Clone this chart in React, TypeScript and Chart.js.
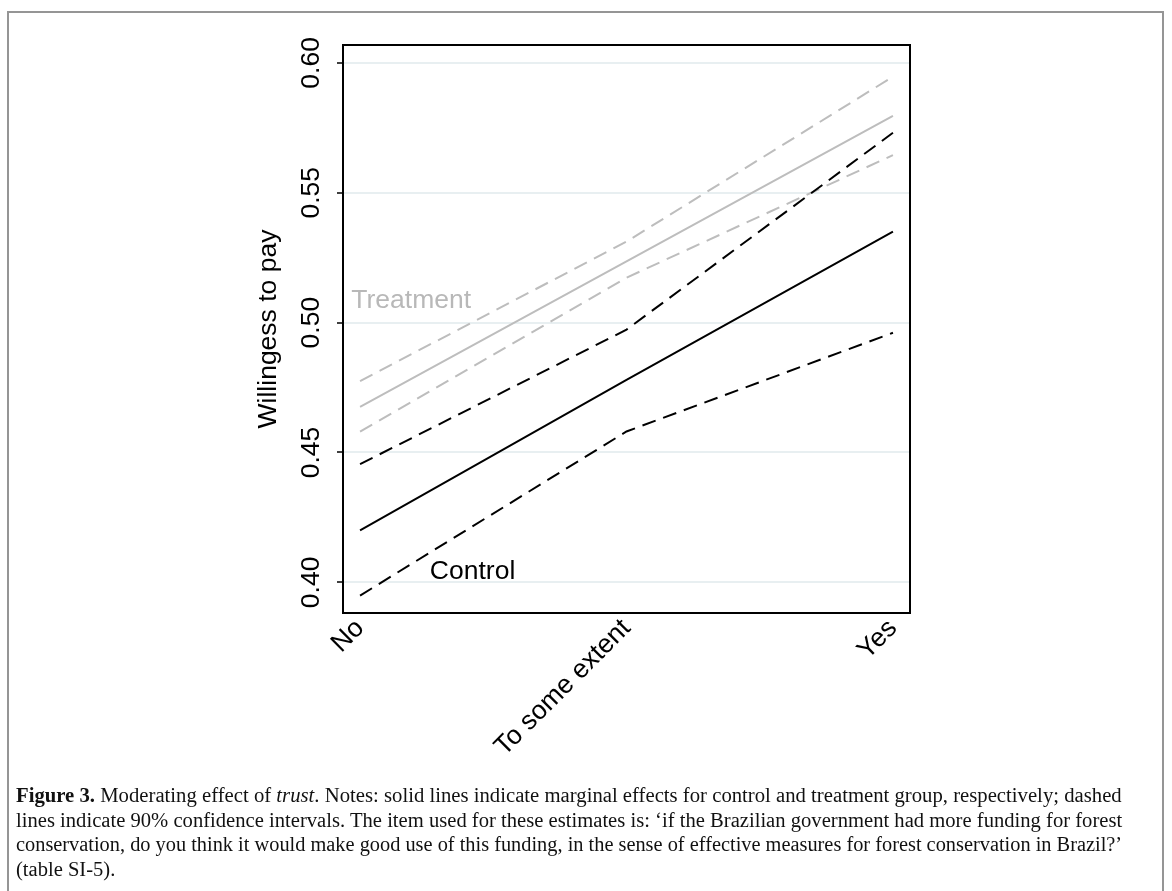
import React, { useEffect, useLayoutEffect, useRef } from "react";
import { Chart, registerables } from "chart.js";

Chart.register(...registerables);

// ---------- data ----------
const categories = ["No", "To some extent", "Yes"];
const categoryPositions = [0, 1, 2];

const controlEstimate = [0.42, 0.478, 0.535];
const controlUpper = [0.4455, 0.4973, 0.5731];
const controlLower = [0.3949, 0.4581, 0.4961];

const treatmentEstimate = [0.4676, 0.5236, 0.5796];
const treatmentUpper = [0.4775, 0.5312, 0.5947];
const treatmentLower = [0.458, 0.5173, 0.5645];

const yTickValues = [0.4, 0.45, 0.5, 0.55, 0.6];
const yTickLabels = ["0.40", "0.45", "0.50", "0.55", "0.60"];

const yAxisTitle = "Willingess to pay";
const annotationTexts = ["Treatment", "Control"];
const annotationX = [-0.033, 0.262];
const annotationY = [0.5058, 0.4014];

const captionLines = [
  [
    { t: "Figure 3.", s: "b" },
    { t: " Moderating effect of " },
    { t: "trust", s: "i" },
    { t: ". Notes: solid lines indicate marginal effects for control and treatment group, respectively; dashed" },
  ],
  [{ t: "lines indicate 90% confidence intervals. The item used for these estimates is: \u2018if the Brazilian government had more funding for forest" }],
  [{ t: "conservation, do you think it would make good use of this funding, in the sense of effective measures for forest conservation in Brazil?\u2019" }],
  [{ t: "(table SI-5)." }],
];

// ---------- styles ----------
const FONT = "'Liberation Sans', Arial, Helvetica, sans-serif";
const FS = 26.5;
const BLACK = "#000000";
const GRAY = "#bdbdbd";
const GRAY_TEXT = "#b8b8b8";
const GRID = "#e8eff1";
const DASH = [14, 8];

const pts = (vals: number[]) => categoryPositions.map((x, i) => ({ x, y: vals[i] }));

const series = [
  { data: controlUpper, color: BLACK, dash: DASH },
  { data: controlLower, color: BLACK, dash: DASH },
  { data: controlEstimate, color: BLACK, dash: [] as number[] },
  { data: treatmentUpper, color: GRAY, dash: DASH },
  { data: treatmentLower, color: GRAY, dash: DASH },
  { data: treatmentEstimate, color: GRAY, dash: [] as number[] },
];

const framePlugin = {
  id: "frameAndNotes",
  afterDraw(chart: any) {
    const { ctx, chartArea, scales } = chart;
    ctx.save();
    ctx.strokeStyle = BLACK;
    ctx.lineWidth = 2;
    ctx.strokeRect(chartArea.left, chartArea.top, chartArea.right - chartArea.left, chartArea.bottom - chartArea.top);
    ctx.font = `${FS}px ${FONT}`;
    ctx.textAlign = "left";
    ctx.textBaseline = "alphabetic";
    annotationTexts.forEach((txt, i) => {
      ctx.fillStyle = i === 0 ? GRAY_TEXT : BLACK;
      ctx.fillText(txt, scales.x.getPixelForValue(annotationX[i]), scales.y.getPixelForValue(annotationY[i]));
    });
    ctx.restore();
  },
};

function ChartBox() {
  const ref = useRef<HTMLCanvasElement | null>(null);
  useEffect(() => {
    if (!ref.current) return;
    const chart = new Chart(ref.current, {
      type: "line",
      data: {
        datasets: series.map((s, i) => ({
          label: "s" + i,
          data: pts(s.data),
          borderColor: s.color,
          borderWidth: 2,
          borderDash: s.dash,
          pointRadius: 0,
          fill: false,
          tension: 0,
        })),
      },
      options: {
        animation: false,
        responsive: false,
        maintainAspectRatio: false,
        layout: { padding: { left: 253, top: 45, right: 262, bottom: 0 } },
        plugins: { legend: { display: false }, tooltip: { enabled: false }, title: { display: false } },
        scales: {
          x: {
            type: "linear",
            min: -0.064,
            max: 2.064,
            afterFit: (s: any) => {
              s.height = 278;
            },
            grid: { display: false, drawTicks: false },
            border: { display: false },
            ticks: {
              stepSize: 1,
              includeBounds: false,
              autoSkip: false,
              minRotation: 45,
              maxRotation: 45,
              padding: 0,
              color: BLACK,
              font: { family: FONT, size: FS },
              callback: (v: any) => categories[categoryPositions.indexOf(Number(v))] ?? "",
            },
          },
          y: {
            type: "linear",
            min: 0.3882,
            max: 0.6069,
            afterFit: (s: any) => {
              s.width = 90;
            },
            afterBuildTicks: (s: any) => {
              s.ticks = yTickValues.map((v) => ({ value: v }));
            },
            grid: { color: GRID, lineWidth: 2, drawTicks: true, tickLength: 6, tickColor: BLACK, tickWidth: 1.5 },
            border: { display: false },
            title: { display: true, text: yAxisTitle, color: BLACK, font: { family: FONT, size: FS }, padding: 0 },
            ticks: {
              minRotation: 90,
              maxRotation: 90,
              crossAlign: "center",
              padding: 0,
              color: BLACK,
              font: { family: FONT, size: FS },
              callback: (v: any) => {
                const i = yTickValues.findIndex((t) => Math.abs(t - Number(v)) < 1e-9);
                return i >= 0 ? yTickLabels[i] : "";
              },
            },
          },
        },
      },
      plugins: [framePlugin],
    } as any);
    return () => chart.destroy();
  }, []);
  return <canvas ref={ref} width={1172} height={891} style={{ position: "absolute", left: 0, top: 0, width: 1172, height: 891 }} />;
}

function Caption() {
  const refs = useRef<(HTMLSpanElement | null)[]>([]);
  const W = 1106;
  useLayoutEffect(() => {
    const scales: number[] = [];
    refs.current.forEach((el, i) => {
      if (!el) return;
      if (i < 3) {
        const s = W / el.offsetWidth;
        scales.push(s);
        el.style.transform = `scaleX(${s})`;
      } else {
        const s = scales.length ? scales.reduce((a, b) => a + b, 0) / scales.length : 1;
        el.style.transform = `scaleX(${s})`;
      }
    });
  }, []);
  return (
    <div
      style={{
        position: "absolute",
        left: 16,
        top: 783,
        fontFamily: "'Liberation Serif', 'Times New Roman', serif",
        fontSize: 20,
        lineHeight: "24.5px",
        color: "#111",
      }}
    >
      {captionLines.map((line, i) => (
        <div key={i} style={{ height: 24.5, whiteSpace: "nowrap" }}>
          <span
            ref={(el) => {
              refs.current[i] = el;
            }}
            style={{ display: "inline-block", transformOrigin: "0 0", whiteSpace: "nowrap" }}
          >
            {line.map((p: any, j) =>
              p.s === "b" ? (
                <b key={j}>{p.t}</b>
              ) : p.s === "i" ? (
                <i key={j}>{p.t}</i>
              ) : (
                <span key={j}>{p.t}</span>
              )
            )}
          </span>
        </div>
      ))}
    </div>
  );
}

export default function App() {
  return (
    <div style={{ position: "absolute", left: 0, top: 0, width: 1172, height: 891, overflow: "hidden", background: "#fff" }}>
      <ChartBox />
      <div
        style={{
          position: "absolute",
          left: 7,
          top: 11,
          width: 1157,
          height: 900,
          border: "2px solid #959595",
          borderBottom: "none",
          boxSizing: "border-box",
          pointerEvents: "none",
        }}
      />
      <Caption />
    </div>
  );
}
